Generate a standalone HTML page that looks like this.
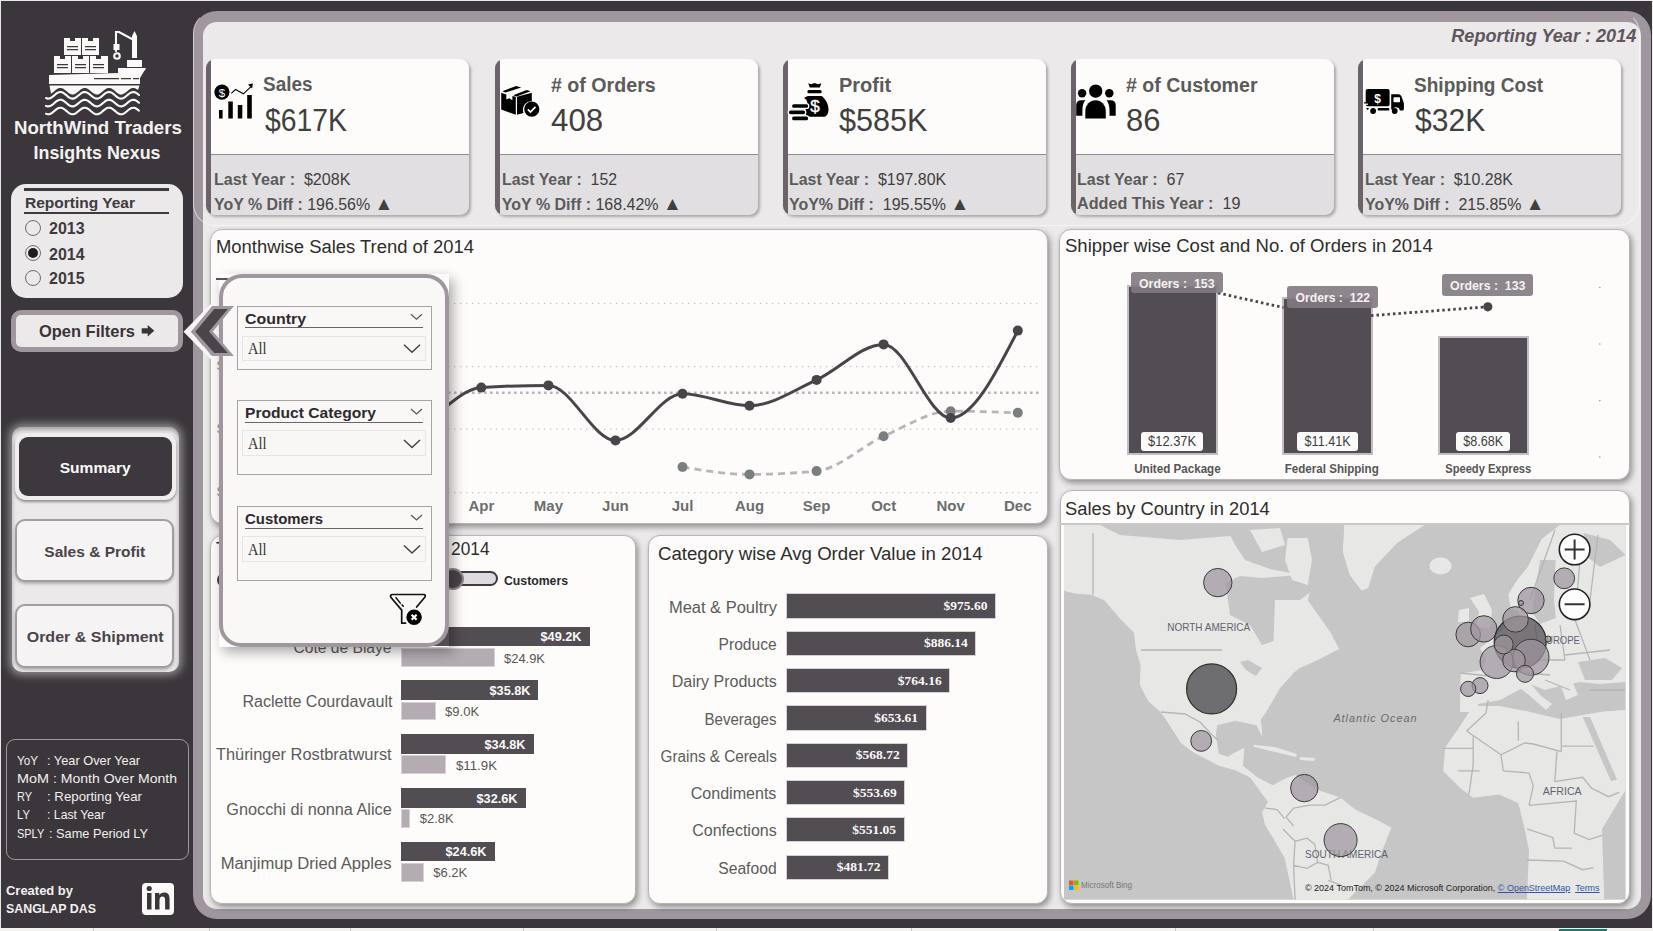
<!DOCTYPE html><html><head><meta charset="utf-8"><style>
html,body{margin:0;padding:0;}
body{width:1653px;height:931px;position:relative;overflow:hidden;background:#3b363b;font-family:"Liberation Sans", sans-serif;}
.a{position:absolute;box-sizing:border-box;}
svg{position:absolute;overflow:visible;}
</style></head><body>

<div class="a" style="left:0;top:0;width:1653px;height:1px;background:#e8e6e6"></div>
<div class="a" style="left:0;top:0;width:1px;height:931px;background:#e8e6e6"></div>
<div class="a" style="left:1652px;top:0;width:1px;height:931px;background:#f0f0f0"></div>
<div class="a" style="left:0;top:928px;width:1653px;height:3px;background:#f3f2f1"></div>
<div class="a" style="left:1559px;top:929px;width:48px;height:2px;background:#217a68"></div>
<div class="a" style="left:93px;top:928px;width:1px;height:3px;background:#c8c8c8"></div>
<div class="a" style="left:208.5px;top:928px;width:1px;height:3px;background:#c8c8c8"></div>
<div class="a" style="left:350px;top:928px;width:1px;height:3px;background:#c8c8c8"></div>
<div class="a" style="left:522.6px;top:928px;width:1px;height:3px;background:#c8c8c8"></div>
<div class="a" style="left:716px;top:928px;width:1px;height:3px;background:#c8c8c8"></div>
<div class="a" style="left:911px;top:928px;width:1px;height:3px;background:#c8c8c8"></div>
<div class="a" style="left:1175px;top:928px;width:1px;height:3px;background:#c8c8c8"></div>
<div class="a" style="left:1373px;top:928px;width:1px;height:3px;background:#c8c8c8"></div>
<svg style="left:0;top:0" width="200" height="130" viewBox="0 0 200 130">
<g fill="#fbfaf8">
<path d="M64 38h17v17h-17z M82 38h17v17h-17z"/>
<path d="M54 56h17v17h-17z M72 56h17v17h-17z M90 56h18v17h-18z"/>
<path d="M49 75h90l7-6h-25l-3 4 z"/>
<path d="M49 75h91v9h-91z"/>
<path d="M118 68h28l-6 10h-22z"/>
<path d="M127 60h15v7h-15z"/>
<path d="M132 36l2.5-5 2.5 5v22h-5z"/>
<path d="M49.5 85.5H139.5L138 90.1 L138.0 90.1 L137.0 89.3 L136.0 88.7 L135.0 88.2 L134.0 88.0 L133.0 87.9 L132.0 88.1 L131.0 88.5 L130.0 89.0 L129.0 89.7 L128.0 90.5 L127.0 91.4 L126.0 92.2 L125.0 93.0 L124.0 93.6 L123.0 94.1 L122.0 94.4 L121.0 94.5 L120.0 94.4 L119.0 94.0 L118.0 93.5 L117.0 92.8 L116.0 92.0 L115.0 91.1 L114.0 90.3 L113.0 89.5 L112.0 88.8 L111.0 88.3 L110.0 88.0 L109.0 87.9 L108.0 88.0 L107.0 88.3 L106.0 88.8 L105.0 89.5 L104.0 90.3 L103.0 91.1 L102.0 92.0 L101.0 92.8 L100.0 93.5 L99.0 94.0 L98.0 94.4 L97.0 94.5 L96.0 94.4 L95.0 94.1 L94.0 93.6 L93.0 93.0 L92.0 92.2 L91.0 91.4 L90.0 90.5 L89.0 89.7 L88.0 89.0 L87.0 88.5 L86.0 88.1 L85.0 87.9 L84.0 88.0 L83.0 88.2 L82.0 88.7 L81.0 89.3 L80.0 90.1 L79.0 90.9 L78.0 91.7 L77.0 92.5 L76.0 93.3 L75.0 93.9 L74.0 94.3 L73.0 94.5 L72.0 94.5 L71.0 94.2 L70.0 93.8 L69.0 93.2 L68.0 92.5 L67.0 91.6 L66.0 90.8 L65.0 90.0 L64.0 89.2 L63.0 88.6 L62.0 88.2 L61.0 87.9 L60.0 87.9 L59.0 88.1 L58.0 88.5 L57.0 89.1 L56.0 89.8 L55.0 90.6 L54.0 91.5 L53.0 92.3 L52.0 93.1 L51.0 93.7Z"/>
</g>
<g fill="#3b363b">
<path d="M70 38h5v3h-5z M88 38h5v3h-5z M60 56h5v3h-5z M78 56h5v3h-5z M96 56h5v3h-5z"/>
<path d="M67 46h11v1.3h-11z M67 49h11v1.3h-11z M85 46h11v1.3h-11z M85 49h11v1.3h-11z"/>
<path d="M57 64h11v1.3h-11z M57 67h11v1.3h-11z M75 64h11v1.3h-11z M75 67h11v1.3h-11z M93 64h11v1.3h-11z M93 67h11v1.3h-11z"/>
<path d="M94 78h25v1.2h-25z M121 78h10v1.2h-10z M133 78h6v1.2h-6z"/>
</g>
<g fill="none" stroke="#fbfaf8" stroke-width="2.1" stroke-linecap="round">
<path d="M116 45V32h3l13 7"/>
<circle cx="117" cy="56" r="2.8"/>
<path d="M116 45v6"/>
<path d="M46.0 98.1 L47.0 98.4 L48.0 98.6 L49.0 98.5 L50.0 98.3 L51.0 97.8 L52.0 97.2 L53.0 96.4 L54.0 95.6 L55.0 94.7 L56.0 93.9 L57.0 93.2 L58.0 92.6 L59.0 92.2 L60.0 92.0 L61.0 92.0 L62.0 92.3 L63.0 92.7 L64.0 93.3 L65.0 94.1 L66.0 94.9 L67.0 95.7 L68.0 96.6 L69.0 97.3 L70.0 97.9 L71.0 98.3 L72.0 98.6 L73.0 98.6 L74.0 98.4 L75.0 98.0 L76.0 97.4 L77.0 96.6 L78.0 95.8 L79.0 95.0 L80.0 94.2 L81.0 93.4 L82.0 92.8 L83.0 92.3 L84.0 92.1 L85.0 92.0 L86.0 92.2 L87.0 92.6 L88.0 93.1 L89.0 93.8 L90.0 94.6 L91.0 95.5 L92.0 96.3 L93.0 97.1 L94.0 97.7 L95.0 98.2 L96.0 98.5 L97.0 98.6 L98.0 98.5 L99.0 98.1 L100.0 97.6 L101.0 96.9 L102.0 96.1 L103.0 95.2 L104.0 94.4 L105.0 93.6 L106.0 92.9 L107.0 92.4 L108.0 92.1 L109.0 92.0 L110.0 92.1 L111.0 92.4 L112.0 92.9 L113.0 93.6 L114.0 94.4 L115.0 95.2 L116.0 96.1 L117.0 96.9 L118.0 97.6 L119.0 98.1 L120.0 98.5 L121.0 98.6 L122.0 98.5 L123.0 98.2 L124.0 97.7 L125.0 97.1 L126.0 96.3 L127.0 95.5 L128.0 94.6 L129.0 93.8 L130.0 93.1 L131.0 92.6 L132.0 92.2 L133.0 92.0 L134.0 92.1 L135.0 92.3 L136.0 92.8 L137.0 93.4 L138.0 94.2 L139.0 95.0"/><path d="M46.0 105.9 L47.0 106.2 L48.0 106.4 L49.0 106.3 L50.0 106.1 L51.0 105.6 L52.0 105.0 L53.0 104.2 L54.0 103.4 L55.0 102.5 L56.0 101.7 L57.0 101.0 L58.0 100.4 L59.0 100.0 L60.0 99.8 L61.0 99.8 L62.0 100.1 L63.0 100.5 L64.0 101.1 L65.0 101.9 L66.0 102.7 L67.0 103.5 L68.0 104.4 L69.0 105.1 L70.0 105.7 L71.0 106.1 L72.0 106.4 L73.0 106.4 L74.0 106.2 L75.0 105.8 L76.0 105.2 L77.0 104.4 L78.0 103.6 L79.0 102.8 L80.0 102.0 L81.0 101.2 L82.0 100.6 L83.0 100.1 L84.0 99.9 L85.0 99.8 L86.0 100.0 L87.0 100.4 L88.0 100.9 L89.0 101.6 L90.0 102.4 L91.0 103.3 L92.0 104.1 L93.0 104.9 L94.0 105.5 L95.0 106.0 L96.0 106.3 L97.0 106.4 L98.0 106.3 L99.0 105.9 L100.0 105.4 L101.0 104.7 L102.0 103.9 L103.0 103.0 L104.0 102.2 L105.0 101.4 L106.0 100.7 L107.0 100.2 L108.0 99.9 L109.0 99.8 L110.0 99.9 L111.0 100.2 L112.0 100.7 L113.0 101.4 L114.0 102.2 L115.0 103.0 L116.0 103.9 L117.0 104.7 L118.0 105.4 L119.0 105.9 L120.0 106.3 L121.0 106.4 L122.0 106.3 L123.0 106.0 L124.0 105.5 L125.0 104.9 L126.0 104.1 L127.0 103.3 L128.0 102.4 L129.0 101.6 L130.0 100.9 L131.0 100.4 L132.0 100.0 L133.0 99.8 L134.0 99.9 L135.0 100.1 L136.0 100.6 L137.0 101.2 L138.0 102.0 L139.0 102.8"/><path d="M46.0 113.8 L47.0 114.1 L48.0 114.3 L49.0 114.2 L50.0 114.0 L51.0 113.5 L52.0 112.9 L53.0 112.1 L54.0 111.3 L55.0 110.4 L56.0 109.6 L57.0 108.9 L58.0 108.3 L59.0 107.9 L60.0 107.7 L61.0 107.7 L62.0 108.0 L63.0 108.4 L64.0 109.0 L65.0 109.8 L66.0 110.6 L67.0 111.4 L68.0 112.3 L69.0 113.0 L70.0 113.6 L71.0 114.0 L72.0 114.3 L73.0 114.3 L74.0 114.1 L75.0 113.7 L76.0 113.1 L77.0 112.3 L78.0 111.5 L79.0 110.7 L80.0 109.9 L81.0 109.1 L82.0 108.5 L83.0 108.0 L84.0 107.8 L85.0 107.7 L86.0 107.9 L87.0 108.3 L88.0 108.8 L89.0 109.5 L90.0 110.3 L91.0 111.2 L92.0 112.0 L93.0 112.8 L94.0 113.4 L95.0 113.9 L96.0 114.2 L97.0 114.3 L98.0 114.2 L99.0 113.8 L100.0 113.3 L101.0 112.6 L102.0 111.8 L103.0 110.9 L104.0 110.1 L105.0 109.3 L106.0 108.6 L107.0 108.1 L108.0 107.8 L109.0 107.7 L110.0 107.8 L111.0 108.1 L112.0 108.6 L113.0 109.3 L114.0 110.1 L115.0 110.9 L116.0 111.8 L117.0 112.6 L118.0 113.3 L119.0 113.8 L120.0 114.2 L121.0 114.3 L122.0 114.2 L123.0 113.9 L124.0 113.4 L125.0 112.8 L126.0 112.0 L127.0 111.2 L128.0 110.3 L129.0 109.5 L130.0 108.8 L131.0 108.3 L132.0 107.9 L133.0 107.7 L134.0 107.8 L135.0 108.0 L136.0 108.5 L137.0 109.1 L138.0 109.9 L139.0 110.7"/></g>
<rect x="113.5" y="44" width="6" height="6" fill="#fbfaf8"/>
</svg>
<div style="position:absolute;top:118.76px;line-height:18px;font-size:18px;font-family:'Liberation Sans', sans-serif;font-weight:700;color:#f4f2f0;white-space:pre;left:-502.50px;width:1200px;text-align:center;"><span style="display:inline-block;transform:scaleX(1.0379);transform-origin:center">NorthWind Traders</span></div>
<div style="position:absolute;top:143.76px;line-height:18px;font-size:18px;font-family:'Liberation Sans', sans-serif;font-weight:700;color:#f4f2f0;white-space:pre;left:-502.50px;width:1200px;text-align:center;"><span style="display:inline-block;transform:scaleX(0.9919);transform-origin:center">Insights Nexus</span></div>
<div class="a" style="left:11px;top:184px;width:172px;height:114px;background:#ebe9ea;border-radius:15px"></div>
<div class="a" style="left:24px;top:188px;width:145px;height:2.5px;background:#3f3a3f"></div>
<div class="a" style="left:24px;top:211.5px;width:145px;height:2px;background:#3f3a3f"></div>
<div style="position:absolute;top:195.30px;line-height:15px;font-size:15px;font-family:'Liberation Sans', sans-serif;font-weight:700;color:#3f3a3f;white-space:pre;left:25.00px;transform:scaleX(1.0336);transform-origin:left;">Reporting Year</div>
<div class="a" style="left:24.700000000000003px;top:219.9px;width:16px;height:16px;border-radius:50%;border:1.1px solid #6e6e6e"></div>
<div style="position:absolute;top:221.36px;line-height:16px;font-size:16px;font-family:'Liberation Sans', sans-serif;font-weight:700;color:#3f3a3f;white-space:pre;left:49.00px;transform:scaleX(0.9974);transform-origin:left;">2013</div>
<div class="a" style="left:24.700000000000003px;top:244.8px;width:16px;height:16px;border-radius:50%;border:1.1px solid #6e6e6e"></div>
<div class="a" style="left:27.500000000000004px;top:247.60000000000002px;width:10.4px;height:10.4px;border-radius:50%;background:#1e1e1e"></div>
<div style="position:absolute;top:247.36px;line-height:16px;font-size:16px;font-family:'Liberation Sans', sans-serif;font-weight:700;color:#3f3a3f;white-space:pre;left:49.00px;transform:scaleX(0.9974);transform-origin:left;">2014</div>
<div class="a" style="left:24.700000000000003px;top:269.7px;width:16px;height:16px;border-radius:50%;border:1.1px solid #6e6e6e"></div>
<div style="position:absolute;top:270.96px;line-height:16px;font-size:16px;font-family:'Liberation Sans', sans-serif;font-weight:700;color:#3f3a3f;white-space:pre;left:49.00px;transform:scaleX(0.9974);transform-origin:left;">2015</div>
<div class="a" style="left:11px;top:310px;width:172px;height:42px;background:#ebe9ea;border:5px solid #a0979e;border-radius:10px"></div>
<div style="position:absolute;top:323.11px;line-height:17px;font-size:17px;font-family:'Liberation Sans', sans-serif;font-weight:700;color:#3a3438;white-space:pre;left:39.00px;transform:scaleX(0.9679);transform-origin:left;">Open Filters</div>
<svg style="left:0;top:0" width="200" height="400"><path d="M141.7 328.2H147.7V325L154.3 330.8L147.7 336.6V333.6H141.7Z" fill="#3a3438"/></svg>
<div class="a" style="left:12px;top:427px;width:167px;height:245px;background:#ebe9ea;border-radius:10px;box-shadow:0 0 8px 3px rgba(255,255,255,0.45), inset 0 3px 4px rgba(0,0,0,0.3)"></div>
<div class="a" style="left:14.5px;top:433px;width:161.5px;height:67px;background:#efedee;border-radius:11px;box-shadow:0 2px 3px rgba(0,0,0,0.4)"></div>
<div class="a" style="left:18.7px;top:437.2px;width:153.6px;height:58.6px;background:#3d383d;border-radius:9px"></div>
<div style="position:absolute;top:460.30px;line-height:15px;font-size:15px;font-family:'Liberation Sans', sans-serif;font-weight:700;color:#fbfafa;white-space:pre;left:-505.00px;width:1200px;text-align:center;"><span style="display:inline-block;transform:scaleX(1.0384);transform-origin:center">Summary</span></div>
<div class="a" style="left:15px;top:518.5px;width:159px;height:63.5px;background:#f5f3f4;border:2px solid #a39ca2;border-radius:10px;box-shadow:0 2px 3px rgba(0,0,0,0.25)"></div>
<div style="position:absolute;top:544.30px;line-height:15px;font-size:15px;font-family:'Liberation Sans', sans-serif;font-weight:700;color:#4a434a;white-space:pre;left:-505.00px;width:1200px;text-align:center;"><span style="display:inline-block;transform:scaleX(1.0356);transform-origin:center">Sales & Profit</span></div>
<div class="a" style="left:15px;top:603.5px;width:159px;height:64.0px;background:#f5f3f4;border:2px solid #a39ca2;border-radius:10px;box-shadow:0 2px 3px rgba(0,0,0,0.25)"></div>
<div style="position:absolute;top:629.30px;line-height:15px;font-size:15px;font-family:'Liberation Sans', sans-serif;font-weight:700;color:#4a434a;white-space:pre;left:-505.00px;width:1200px;text-align:center;"><span style="display:inline-block;transform:scaleX(1.0673);transform-origin:center">Order & Shipment</span></div>
<div class="a" style="left:6px;top:738.5px;width:182.5px;height:121.5px;border:1px solid #9d989c;border-radius:9px"></div>
<div style="position:absolute;top:753.77px;line-height:13.5px;font-size:13.5px;font-family:'Liberation Sans', sans-serif;font-weight:400;color:#f2f0ee;white-space:pre;left:17.40px;transform:scaleX(0.8649);transform-origin:left;">YoY</div>
<div style="position:absolute;top:753.77px;line-height:13.5px;font-size:13.5px;font-family:'Liberation Sans', sans-serif;font-weight:400;color:#f2f0ee;white-space:pre;left:47.00px;transform:scaleX(0.9458);transform-origin:left;">: Year Over Year</div>
<div style="position:absolute;top:771.97px;line-height:13.5px;font-size:13.5px;font-family:'Liberation Sans', sans-serif;font-weight:400;color:#f2f0ee;white-space:pre;left:17.40px;transform:scaleX(1.0667);transform-origin:left;">MoM</div>
<div style="position:absolute;top:771.97px;line-height:13.5px;font-size:13.5px;font-family:'Liberation Sans', sans-serif;font-weight:400;color:#f2f0ee;white-space:pre;left:53.30px;transform:scaleX(1.0393);transform-origin:left;">: Month Over Month</div>
<div style="position:absolute;top:790.17px;line-height:13.5px;font-size:13.5px;font-family:'Liberation Sans', sans-serif;font-weight:400;color:#f2f0ee;white-space:pre;left:17.40px;transform:scaleX(0.8101);transform-origin:left;">RY</div>
<div style="position:absolute;top:790.17px;line-height:13.5px;font-size:13.5px;font-family:'Liberation Sans', sans-serif;font-weight:400;color:#f2f0ee;white-space:pre;left:47.00px;transform:scaleX(0.9811);transform-origin:left;">: Reporting Year</div>
<div style="position:absolute;top:808.37px;line-height:13.5px;font-size:13.5px;font-family:'Liberation Sans', sans-serif;font-weight:400;color:#f2f0ee;white-space:pre;left:17.40px;transform:scaleX(0.8379);transform-origin:left;">LY</div>
<div style="position:absolute;top:808.37px;line-height:13.5px;font-size:13.5px;font-family:'Liberation Sans', sans-serif;font-weight:400;color:#f2f0ee;white-space:pre;left:47.00px;transform:scaleX(0.9089);transform-origin:left;">: Last Year</div>
<div style="position:absolute;top:826.57px;line-height:13.5px;font-size:13.5px;font-family:'Liberation Sans', sans-serif;font-weight:400;color:#f2f0ee;white-space:pre;left:17.40px;transform:scaleX(0.8112);transform-origin:left;">SPLY</div>
<div style="position:absolute;top:826.57px;line-height:13.5px;font-size:13.5px;font-family:'Liberation Sans', sans-serif;font-weight:400;color:#f2f0ee;white-space:pre;left:48.70px;transform:scaleX(0.9445);transform-origin:left;">: Same Period LY</div>
<div style="position:absolute;top:883.50px;line-height:13px;font-size:13px;font-family:'Liberation Sans', sans-serif;font-weight:700;color:#f2f0ee;white-space:pre;left:6.00px;transform:scaleX(0.9970);transform-origin:left;">Created by</div>
<div style="position:absolute;top:901.50px;line-height:13px;font-size:13px;font-family:'Liberation Sans', sans-serif;font-weight:700;color:#f2f0ee;white-space:pre;left:6.00px;transform:scaleX(0.9535);transform-origin:left;">SANGLAP DAS</div>
<div class="a" style="left:142px;top:883px;width:32px;height:32px;background:#fbfaf8;border-radius:4px"></div>
<svg style="left:0;top:0" width="200" height="931"><g fill="#3b363b"><rect x="147" y="893" width="4.5" height="16.5"/><circle cx="149.2" cy="888.5" r="2.6"/><path d="M155 893h4.3v2.2c1-1.6 2.6-2.6 5-2.6 4 0 5.3 2.5 5.3 6.5v10.4h-4.5v-9.5c0-2-.6-3.4-2.6-3.4s-3 1.4-3 3.4v9.5h-4.5z"/></g></svg>
<div class="a" style="left:193px;top:11px;width:1458px;height:908px;background:#a0979e;border-radius:24px"></div>
<div class="a" style="left:203px;top:22px;width:1438px;height:887px;background:#ebe9ea;border-radius:14px"></div>
<div class="a" style="left:193px;top:11px;width:1447px;height:215px;border:1.5px solid rgba(255,255,255,0.55);border-radius:22px;border-top-color:transparent"></div>
<div style="position:absolute;top:25.92px;line-height:19px;font-size:19px;font-family:'Liberation Sans', sans-serif;font-weight:700;color:#5f5660;white-space:pre;font-style:italic;right:17.00px;transform:scaleX(0.9522);transform-origin:right;">Reporting Year : 2014</div>
<div class="a" style="left:206px;top:59px;width:263px;height:156px;background:#e2dfe2;border-radius:9px;box-shadow:2px 2px 3px rgba(0,0,0,0.28);overflow:hidden"><div class="a" style="left:0;top:0;width:263px;height:95.5px;background:#fdfcfa"></div><div class="a" style="left:0;top:94.8px;width:263px;height:1.3px;background:#8f8e8f"></div><div class="a" style="left:0;top:0;width:5px;height:156px;background:#6b636a"></div></div>
<div class="a" style="left:494.5px;top:59px;width:263px;height:156px;background:#e2dfe2;border-radius:9px;box-shadow:2px 2px 3px rgba(0,0,0,0.28);overflow:hidden"><div class="a" style="left:0;top:0;width:263px;height:95.5px;background:#fdfcfa"></div><div class="a" style="left:0;top:94.8px;width:263px;height:1.3px;background:#8f8e8f"></div><div class="a" style="left:0;top:0;width:5px;height:156px;background:#6b636a"></div></div>
<div class="a" style="left:782.5px;top:59px;width:263px;height:156px;background:#e2dfe2;border-radius:9px;box-shadow:2px 2px 3px rgba(0,0,0,0.28);overflow:hidden"><div class="a" style="left:0;top:0;width:263px;height:95.5px;background:#fdfcfa"></div><div class="a" style="left:0;top:94.8px;width:263px;height:1.3px;background:#8f8e8f"></div><div class="a" style="left:0;top:0;width:5px;height:156px;background:#6b636a"></div></div>
<div class="a" style="left:1070.5px;top:59px;width:263px;height:156px;background:#e2dfe2;border-radius:9px;box-shadow:2px 2px 3px rgba(0,0,0,0.28);overflow:hidden"><div class="a" style="left:0;top:0;width:263px;height:95.5px;background:#fdfcfa"></div><div class="a" style="left:0;top:94.8px;width:263px;height:1.3px;background:#8f8e8f"></div><div class="a" style="left:0;top:0;width:5px;height:156px;background:#6b636a"></div></div>
<div class="a" style="left:1358px;top:59px;width:263px;height:156px;background:#e2dfe2;border-radius:9px;box-shadow:2px 2px 3px rgba(0,0,0,0.28);overflow:hidden"><div class="a" style="left:0;top:0;width:263px;height:95.5px;background:#fdfcfa"></div><div class="a" style="left:0;top:94.8px;width:263px;height:1.3px;background:#8f8e8f"></div><div class="a" style="left:0;top:0;width:5px;height:156px;background:#6b636a"></div></div>
<div style="position:absolute;top:73.67px;line-height:20px;font-size:20px;font-family:'Liberation Sans', sans-serif;font-weight:700;color:#5b5b5b;white-space:pre;left:263.20px;transform:scaleX(0.9471);transform-origin:left;">Sales</div>
<div style="position:absolute;top:104.21px;line-height:32px;font-size:32px;font-family:'Liberation Sans', sans-serif;font-weight:400;color:#404040;white-space:pre;left:264.70px;transform:scaleX(0.8862);transform-origin:left;">$617K</div>
<div style="position:absolute;top:172.26px;line-height:16px;font-size:16px;font-family:'Liberation Sans', sans-serif;font-weight:400;color:#404040;white-space:pre;left:214.30px;transform:scaleX(1.0044);transform-origin:left;"><b style="color:#5b5b5b">Last Year :</b><span style="color:#404040">  $208K</span></div>
<div style="position:absolute;top:195.96px;line-height:16px;font-size:16px;font-family:'Liberation Sans', sans-serif;font-weight:400;color:#404040;white-space:pre;left:214.30px;transform:scaleX(0.9958);transform-origin:left;"><b style="color:#5b5b5b">YoY % Diff :</b><span style="color:#404040"> 196.56% <span style="font-size:19px">▲</span></span></div>
<div style="position:absolute;top:74.87px;line-height:20px;font-size:20px;font-family:'Liberation Sans', sans-serif;font-weight:700;color:#5b5b5b;white-space:pre;left:550.70px;transform:scaleX(0.9812);transform-origin:left;"># of Orders</div>
<div style="position:absolute;top:104.21px;line-height:32px;font-size:32px;font-family:'Liberation Sans', sans-serif;font-weight:400;color:#404040;white-space:pre;left:551.40px;transform:scaleX(0.9777);transform-origin:left;">408</div>
<div style="position:absolute;top:172.26px;line-height:16px;font-size:16px;font-family:'Liberation Sans', sans-serif;font-weight:400;color:#404040;white-space:pre;left:501.80px;transform:scaleX(0.9894);transform-origin:left;"><b style="color:#5b5b5b">Last Year :</b><span style="color:#404040">  152</span></div>
<div style="position:absolute;top:195.96px;line-height:16px;font-size:16px;font-family:'Liberation Sans', sans-serif;font-weight:400;color:#404040;white-space:pre;left:501.80px;"><b style="color:#5b5b5b">YoY % Diff :</b><span style="color:#404040"> 168.42% <span style="font-size:19px">▲</span></span></div>
<div style="position:absolute;top:74.87px;line-height:20px;font-size:20px;font-family:'Liberation Sans', sans-serif;font-weight:700;color:#5b5b5b;white-space:pre;left:838.60px;transform:scaleX(0.9977);transform-origin:left;">Profit</div>
<div style="position:absolute;top:104.21px;line-height:32px;font-size:32px;font-family:'Liberation Sans', sans-serif;font-weight:400;color:#404040;white-space:pre;left:838.60px;transform:scaleX(0.9564);transform-origin:left;">$585K</div>
<div style="position:absolute;top:172.26px;line-height:16px;font-size:16px;font-family:'Liberation Sans', sans-serif;font-weight:400;color:#404040;white-space:pre;left:788.90px;transform:scaleX(0.9940);transform-origin:left;"><b style="color:#5b5b5b">Last Year :</b><span style="color:#404040">  $197.80K</span></div>
<div style="position:absolute;top:195.96px;line-height:16px;font-size:16px;font-family:'Liberation Sans', sans-serif;font-weight:400;color:#404040;white-space:pre;left:788.90px;"><b style="color:#5b5b5b">YoY% Diff :</b><span style="color:#404040">  195.55% <span style="font-size:19px">▲</span></span></div>
<div style="position:absolute;top:74.87px;line-height:20px;font-size:20px;font-family:'Liberation Sans', sans-serif;font-weight:700;color:#5b5b5b;white-space:pre;left:1126.00px;transform:scaleX(0.9779);transform-origin:left;"># of Customer</div>
<div style="position:absolute;top:104.21px;line-height:32px;font-size:32px;font-family:'Liberation Sans', sans-serif;font-weight:400;color:#404040;white-space:pre;left:1126.00px;transform:scaleX(0.9665);transform-origin:left;">86</div>
<div style="position:absolute;top:172.26px;line-height:16px;font-size:16px;font-family:'Liberation Sans', sans-serif;font-weight:400;color:#404040;white-space:pre;left:1077.00px;"><b style="color:#5b5b5b">Last Year :</b><span style="color:#404040">  67</span></div>
<div style="position:absolute;top:195.96px;line-height:16px;font-size:16px;font-family:'Liberation Sans', sans-serif;font-weight:400;color:#404040;white-space:pre;left:1077.00px;transform:scaleX(1.0115);transform-origin:left;"><b style="color:#5b5b5b">Added This Year :</b><span style="color:#404040">  19</span></div>
<div style="position:absolute;top:74.87px;line-height:20px;font-size:20px;font-family:'Liberation Sans', sans-serif;font-weight:700;color:#5b5b5b;white-space:pre;left:1413.90px;transform:scaleX(0.9524);transform-origin:left;">Shipping Cost</div>
<div style="position:absolute;top:104.21px;line-height:32px;font-size:32px;font-family:'Liberation Sans', sans-serif;font-weight:400;color:#404040;white-space:pre;left:1415.10px;transform:scaleX(0.9393);transform-origin:left;">$32K</div>
<div style="position:absolute;top:172.26px;line-height:16px;font-size:16px;font-family:'Liberation Sans', sans-serif;font-weight:400;color:#404040;white-space:pre;left:1364.50px;transform:scaleX(0.9917);transform-origin:left;"><b style="color:#5b5b5b">Last Year :</b><span style="color:#404040">  $10.28K</span></div>
<div style="position:absolute;top:195.96px;line-height:16px;font-size:16px;font-family:'Liberation Sans', sans-serif;font-weight:400;color:#404040;white-space:pre;left:1364.50px;transform:scaleX(0.9953);transform-origin:left;"><b style="color:#5b5b5b">YoY% Diff :</b><span style="color:#404040">  215.85% <span style="font-size:19px">▲</span></span></div>
<svg style="left:0;top:0" width="1653" height="200" viewBox="0 0 1653 200">
<g fill="#000">
<circle cx="221.9" cy="92.1" r="7.6"/>
<rect x="219" y="110" width="3.6" height="8.5"/><rect x="228.3" y="101.5" width="4.5" height="17"/><rect x="237.8" y="105" width="4.5" height="13.5"/><rect x="247.2" y="95" width="4.6" height="23.5"/>
<path d="M248 84.5l5-1-1 5z"/>
</g>
<path d="M231.3 93.4l4.2-3.9 7.9 4.3 8.4-8" fill="none" stroke="#000" stroke-width="1.1"/>
<text x="221.9" y="96.6" font-family="Liberation Sans" font-size="11.5" fill="#fff" text-anchor="middle">$</text>
<!-- box -->
<g fill="#000">
<path d="M501.2 92.8L506.3 94.6V99.6L509.3 98.3L512.4 100.2V95.9L515.8 96.8V114.8L501.2 109.4Z"/>
<path d="M517 96.8L531.8 92.8V101.2A8.5 8.5 0 0 0 523.6 113L517 114.8Z"/>
<path d="M502.4 91.3L516.2 85.9L521.2 87.4L505.4 92.6Z"/>
<path d="M513.3 95.3L526.6 89.9L530.6 91.3L516.7 96.5Z"/>
<circle cx="531.8" cy="109.1" r="7.6"/>
</g>
<path d="M527.8 109.3l2.7 2.8 5-5.2" fill="none" stroke="#fff" stroke-width="1.7"/>
<!-- money bag -->
<g fill="#000">
<path d="M808.2 83.3l3 1 3.4-1.4 3.4 1.4 3.4-1 -1.6 4.2h-10z"/>
<rect x="807.4" y="90.1" width="14.3" height="3.2" rx="1.5"/>
<path d="M807.7 95.9h14c4 3.5 6.8 8 6.8 13.5c0 4.5-2 7.4-5.5 7.4h-12.5c-3.2 0-5-1.8-5-3.6v-6.5a5 5 0 0 0-1.5-8.6z"/>
</g>
<text x="815" y="111.5" font-family="Liberation Sans" font-size="17" fill="#fff" text-anchor="middle" stroke="#fff" stroke-width="0.4">$</text>
<g fill="#000" stroke="#fdfcfa" stroke-width="1.3">
<rect x="791.5" y="103.6" width="17.2" height="4.8" rx="2.2"/>
<rect x="788.3" y="109.8" width="17.4" height="5" rx="2.2"/>
<rect x="791.5" y="115.9" width="17.2" height="5.1" rx="2.2"/>
</g>
<!-- people -->
<g fill="#000">
<circle cx="1095.7" cy="91.1" r="6.7"/><circle cx="1082.1" cy="93.3" r="4.2"/><circle cx="1109.3" cy="93.3" r="4.2"/>
<path d="M1085.3 118.5V111a10.25 10.8 0 0 1 20.5 0V118.5Q1105.8 118.5 1104 118.5H1087Q1085.3 118.5 1085.3 118.5Z"/>
<path d="M1076.2 115.8V105c0-3 2-4.7 5-4.7h4.2c-1.8 2.2-3 5.5-3 9.5v6z"/>
<path d="M1115.7 115.8V105c0-3-2-4.7-5-4.7h-4.2c1.8 2.2 3 5.5 3 9.5v6z"/>
</g>
<!-- truck -->
<g fill="#000">
<rect x="1365.7" y="89.1" width="23.9" height="17.2" rx="2"/>
<path d="M1391.2 94.2h7.2c1.5 0 2.6 1 3.2 2.5l2.3 6.5v5.5c0 1.2-.6 1.9-1.7 1.9h-2.2a4 4 0 0 0-7.5-1.2l-1.3.1z"/>
<rect x="1377.6" y="108.1" width="11.8" height="2.5" rx="1"/>
<circle cx="1373.1" cy="111" r="2.9"/><circle cx="1394.7" cy="111" r="2.9"/>
<path d="M1366 108h3l-1.2 2.3z"/>
<rect x="1364" y="102.3" width="3.5" height="1.5"/>
</g>
<rect x="1393.5" y="97.3" width="6.5" height="4.9" rx="0.8" fill="#fff"/>
<rect x="1364" y="103.6" width="4" height="1.2" fill="#fff"/>
<text x="1377.6" y="102.6" font-family="Liberation Sans" font-size="12" font-weight="bold" fill="#fff" text-anchor="middle">$</text>
</svg>
<div class="a" style="left:210px;top:229px;width:838.3px;height:294.6px;background:#fdfcfa;border:1px solid #b9b3b8;border-radius:12px;box-shadow:2px 3px 6px rgba(0,0,0,0.4)"></div>
<div class="a" style="left:1059px;top:229px;width:571px;height:251px;background:#fdfcfa;border:1px solid #b9b3b8;border-radius:12px;box-shadow:2px 3px 6px rgba(0,0,0,0.4)"></div>
<div class="a" style="left:1059.5px;top:490.4px;width:570.5px;height:414.0px;background:#fdfcfa;border:1px solid #b9b3b8;border-radius:12px;box-shadow:2px 3px 6px rgba(0,0,0,0.4)"></div>
<div class="a" style="left:210px;top:535px;width:426px;height:368.6px;background:#fdfcfa;border:1px solid #b9b3b8;border-radius:12px;box-shadow:2px 3px 6px rgba(0,0,0,0.4)"></div>
<div class="a" style="left:647.5px;top:535px;width:400.70000000000005px;height:368.5px;background:#fdfcfa;border:1px solid #b9b3b8;border-radius:12px;box-shadow:2px 3px 6px rgba(0,0,0,0.4)"></div>
<div style="position:absolute;top:238.06px;line-height:18px;font-size:18px;font-family:'Liberation Sans', sans-serif;font-weight:400;color:#2d2d2d;white-space:pre;left:216.00px;transform:scaleX(1.0232);transform-origin:left;">Monthwise Sales Trend of 2014</div>
<div style="position:absolute;top:236.86px;line-height:18px;font-size:18px;font-family:'Liberation Sans', sans-serif;font-weight:400;color:#2d2d2d;white-space:pre;left:1064.60px;transform:scaleX(1.0294);transform-origin:left;">Shipper wise Cost and No. of Orders in 2014</div>
<div style="position:absolute;top:500.16px;line-height:18px;font-size:18px;font-family:'Liberation Sans', sans-serif;font-weight:400;color:#2d2d2d;white-space:pre;left:1065.00px;transform:scaleX(1.0183);transform-origin:left;">Sales by Country in 2014</div>
<div style="position:absolute;top:540.06px;line-height:18px;font-size:18px;font-family:'Liberation Sans', sans-serif;font-weight:400;color:#2d2d2d;white-space:pre;left:216.00px;transform:scaleX(0.9590);transform-origin:left;">Top 5 Products by Revenue in 2014</div>
<div style="position:absolute;top:545.36px;line-height:18px;font-size:18px;font-family:'Liberation Sans', sans-serif;font-weight:400;color:#2d2d2d;white-space:pre;left:658.40px;transform:scaleX(1.0350);transform-origin:left;">Category wise Avg Order Value in 2014</div>
<svg style="left:0;top:0" width="1653" height="931" viewBox="0 0 1653 931">
<line x1="262" y1="303.4" x2="1040" y2="303.4" stroke="#c4c4c4" stroke-width="1.3" stroke-dasharray="1.3 4.7"/>
<line x1="262" y1="366.6" x2="1040" y2="366.6" stroke="#c4c4c4" stroke-width="1.3" stroke-dasharray="1.3 4.7"/>
<line x1="262" y1="429.2" x2="1040" y2="429.2" stroke="#c4c4c4" stroke-width="1.3" stroke-dasharray="1.3 4.7"/>
<line x1="262" y1="492.6" x2="1040" y2="492.6" stroke="#c4c4c4" stroke-width="1.3" stroke-dasharray="1.3 4.7"/>
<line x1="262" y1="392.8" x2="1042" y2="392.8" stroke="#bcb4bc" stroke-width="2.6" stroke-dasharray="2.6 3.4"/>
<path d="M682.5 467.0 C704.9 470.7 727.2 474.4 749.5 474.4 C771.9 474.4 794.2 473.3 816.6 471.1 C838.9 468.9 861.3 446.3 883.6 436.3 C906.0 426.3 928.4 411.2 950.7 411.2 C973.1 411.2 995.4 412.0 1017.8 412.8" fill="none" stroke="#bbb3ba" stroke-width="2.8" stroke-dasharray="7 5"/>
<circle cx="682.5" cy="467" r="5" fill="#7b7e7f"/>
<circle cx="749.5" cy="474.4" r="5" fill="#7b7e7f"/>
<circle cx="816.6" cy="471.1" r="5" fill="#7b7e7f"/>
<circle cx="883.6" cy="436.3" r="5" fill="#7b7e7f"/>
<circle cx="950.7" cy="411.2" r="5" fill="#7b7e7f"/>
<circle cx="1017.8" cy="412.8" r="5" fill="#7b7e7f"/>
<path d="M280.2 455.0 C302.6 462.5 324.9 470.0 347.2 470.0 C369.6 470.0 391.9 445.7 414.3 432.0 C436.6 418.3 459.0 389.1 481.3 387.6 C503.7 386.1 526.0 385.4 548.4 385.4 C570.8 385.4 593.1 440.4 615.5 440.4 C637.8 440.4 660.1 393.8 682.5 393.8 C704.9 393.8 727.2 405.7 749.5 405.7 C771.9 405.7 794.2 390.1 816.6 379.9 C838.9 369.7 861.3 344.4 883.6 344.4 C906.0 344.4 928.4 418.0 950.7 418.0 C973.1 418.0 995.4 374.3 1017.8 330.6" fill="none" stroke="#4a444a" stroke-width="3"/>
<circle cx="280.2" cy="455" r="5" fill="#4a444a"/>
<circle cx="347.2" cy="470" r="5" fill="#4a444a"/>
<circle cx="414.3" cy="432" r="5" fill="#4a444a"/>
<circle cx="481.3" cy="387.6" r="5" fill="#4a444a"/>
<circle cx="548.4" cy="385.4" r="5" fill="#4a444a"/>
<circle cx="615.5" cy="440.4" r="5" fill="#4a444a"/>
<circle cx="682.5" cy="393.8" r="5" fill="#4a444a"/>
<circle cx="749.5" cy="405.7" r="5" fill="#4a444a"/>
<circle cx="816.6" cy="379.9" r="5" fill="#4a444a"/>
<circle cx="883.6" cy="344.4" r="5" fill="#4a444a"/>
<circle cx="950.7" cy="418" r="5" fill="#4a444a"/>
<circle cx="1017.8" cy="330.6" r="5" fill="#4a444a"/>
</svg>
<div style="position:absolute;top:497.80px;line-height:15px;font-size:15px;font-family:'Liberation Sans', sans-serif;font-weight:700;color:#6b6e6e;white-space:pre;left:-319.80px;width:1200px;text-align:center;">Jan</div>
<div style="position:absolute;top:497.80px;line-height:15px;font-size:15px;font-family:'Liberation Sans', sans-serif;font-weight:700;color:#6b6e6e;white-space:pre;left:-252.75px;width:1200px;text-align:center;">Feb</div>
<div style="position:absolute;top:497.80px;line-height:15px;font-size:15px;font-family:'Liberation Sans', sans-serif;font-weight:700;color:#6b6e6e;white-space:pre;left:-185.70px;width:1200px;text-align:center;">Mar</div>
<div style="position:absolute;top:497.80px;line-height:15px;font-size:15px;font-family:'Liberation Sans', sans-serif;font-weight:700;color:#6b6e6e;white-space:pre;left:-118.65px;width:1200px;text-align:center;">Apr</div>
<div style="position:absolute;top:497.80px;line-height:15px;font-size:15px;font-family:'Liberation Sans', sans-serif;font-weight:700;color:#6b6e6e;white-space:pre;left:-51.60px;width:1200px;text-align:center;">May</div>
<div style="position:absolute;top:497.80px;line-height:15px;font-size:15px;font-family:'Liberation Sans', sans-serif;font-weight:700;color:#6b6e6e;white-space:pre;left:15.45px;width:1200px;text-align:center;">Jun</div>
<div style="position:absolute;top:497.80px;line-height:15px;font-size:15px;font-family:'Liberation Sans', sans-serif;font-weight:700;color:#6b6e6e;white-space:pre;left:82.50px;width:1200px;text-align:center;">Jul</div>
<div style="position:absolute;top:497.80px;line-height:15px;font-size:15px;font-family:'Liberation Sans', sans-serif;font-weight:700;color:#6b6e6e;white-space:pre;left:149.55px;width:1200px;text-align:center;">Aug</div>
<div style="position:absolute;top:497.80px;line-height:15px;font-size:15px;font-family:'Liberation Sans', sans-serif;font-weight:700;color:#6b6e6e;white-space:pre;left:216.60px;width:1200px;text-align:center;">Sep</div>
<div style="position:absolute;top:497.80px;line-height:15px;font-size:15px;font-family:'Liberation Sans', sans-serif;font-weight:700;color:#6b6e6e;white-space:pre;left:283.65px;width:1200px;text-align:center;">Oct</div>
<div style="position:absolute;top:497.80px;line-height:15px;font-size:15px;font-family:'Liberation Sans', sans-serif;font-weight:700;color:#6b6e6e;white-space:pre;left:350.70px;width:1200px;text-align:center;">Nov</div>
<div style="position:absolute;top:497.80px;line-height:15px;font-size:15px;font-family:'Liberation Sans', sans-serif;font-weight:700;color:#6b6e6e;white-space:pre;left:417.75px;width:1200px;text-align:center;">Dec</div>
<div style="position:absolute;top:359.00px;line-height:13px;font-size:13px;font-family:'Liberation Sans', sans-serif;font-weight:400;color:#8a8a8a;white-space:pre;left:217.00px;">$</div>
<div style="position:absolute;top:422.00px;line-height:13px;font-size:13px;font-family:'Liberation Sans', sans-serif;font-weight:400;color:#8a8a8a;white-space:pre;left:217.00px;">$</div>
<div style="position:absolute;top:485.00px;line-height:13px;font-size:13px;font-family:'Liberation Sans', sans-serif;font-weight:400;color:#8a8a8a;white-space:pre;left:217.00px;">$</div>
<div class="a" style="left:216px;top:278px;width:12px;height:2px;background:#555"></div>
<div class="a" style="left:1126.6px;top:285px;width:91.2px;height:170.3px;background:#524c53;border:2.5px solid #c3bcc2"></div>
<div class="a" style="left:1282px;top:297.3px;width:91.2px;height:158px;background:#524c53;border:2.5px solid #c3bcc2"></div>
<div class="a" style="left:1437.5px;top:336px;width:91.5px;height:119.3px;background:#524c53;border:2.5px solid #c3bcc2"></div>
<svg style="left:0;top:0" width="1653" height="931">
<path d="M1218 293 L1283.5 307.6" stroke="#4a444a" stroke-width="2.8" stroke-dasharray="2.5 3" fill="none"/>
<path d="M1371 315.6 L1487.8 306.8" stroke="#4a444a" stroke-width="2.8" stroke-dasharray="2.5 3" fill="none"/>
<circle cx="1487.8" cy="306.8" r="4.6" fill="#4a444a"/>
<circle cx="1599.8" cy="287.5" r="0.8" fill="#999"/>
<circle cx="1599.8" cy="344" r="0.8" fill="#999"/>
<circle cx="1599.8" cy="400.6" r="0.8" fill="#999"/>
<circle cx="1599.8" cy="457" r="0.8" fill="#999"/>
</svg>
<div class="a" style="left:1131px;top:271.8px;width:91.59999999999991px;height:21.19999999999999px;background:rgba(130,121,129,0.9);border-radius:3px"></div>
<div style="position:absolute;top:276.50px;line-height:13px;font-size:13px;font-family:'Liberation Sans', sans-serif;font-weight:700;color:#f4f2f3;white-space:pre;left:576.80px;width:1200px;text-align:center;"><span style="display:inline-block;transform:scaleX(0.9509);transform-origin:center">Orders :  <b>153</b></span></div>
<div class="a" style="left:1287px;top:286.4px;width:90.59999999999991px;height:21.200000000000045px;background:rgba(130,121,129,0.9);border-radius:3px"></div>
<div style="position:absolute;top:291.10px;line-height:13px;font-size:13px;font-family:'Liberation Sans', sans-serif;font-weight:700;color:#f4f2f3;white-space:pre;left:732.30px;width:1200px;text-align:center;"><span style="display:inline-block;transform:scaleX(0.9384);transform-origin:center">Orders :  <b>122</b></span></div>
<div class="a" style="left:1442px;top:274px;width:91.40000000000009px;height:21.899999999999977px;background:rgba(130,121,129,0.9);border-radius:3px"></div>
<div style="position:absolute;top:279.40px;line-height:13px;font-size:13px;font-family:'Liberation Sans', sans-serif;font-weight:700;color:#f4f2f3;white-space:pre;left:887.70px;width:1200px;text-align:center;"><span style="display:inline-block;transform:scaleX(0.9484);transform-origin:center">Orders :  <b>133</b></span></div>
<div class="a" style="left:1141px;top:431.6px;width:61.5px;height:19px;background:#fbfafa;border-radius:3px"></div>
<div style="position:absolute;top:434.15px;line-height:14px;font-size:14px;font-family:'Liberation Sans', sans-serif;font-weight:400;color:#3f3f3f;white-space:pre;left:571.75px;width:1200px;text-align:center;"><span style="display:inline-block;transform:scaleX(0.9200);transform-origin:center">$12.37K</span></div>
<div class="a" style="left:1297px;top:431.6px;width:61px;height:19px;background:#fbfafa;border-radius:3px"></div>
<div style="position:absolute;top:434.15px;line-height:14px;font-size:14px;font-family:'Liberation Sans', sans-serif;font-weight:400;color:#3f3f3f;white-space:pre;left:727.50px;width:1200px;text-align:center;"><span style="display:inline-block;transform:scaleX(0.8998);transform-origin:center">$11.41K</span></div>
<div class="a" style="left:1455.7px;top:431.6px;width:54.700000000000045px;height:19px;background:#fbfafa;border-radius:3px"></div>
<div style="position:absolute;top:434.15px;line-height:14px;font-size:14px;font-family:'Liberation Sans', sans-serif;font-weight:400;color:#3f3f3f;white-space:pre;left:883.05px;width:1200px;text-align:center;"><span style="display:inline-block;transform:scaleX(0.9014);transform-origin:center">$8.68K</span></div>
<div style="position:absolute;top:461.50px;line-height:13px;font-size:13px;font-family:'Liberation Sans', sans-serif;font-weight:700;color:#555555;white-space:pre;left:577.00px;width:1200px;text-align:center;"><span style="display:inline-block;transform:scaleX(0.8933);transform-origin:center">United Package</span></div>
<div style="position:absolute;top:461.50px;line-height:13px;font-size:13px;font-family:'Liberation Sans', sans-serif;font-weight:700;color:#555555;white-space:pre;left:732.00px;width:1200px;text-align:center;"><span style="display:inline-block;transform:scaleX(0.8913);transform-origin:center">Federal Shipping</span></div>
<div style="position:absolute;top:461.50px;line-height:13px;font-size:13px;font-family:'Liberation Sans', sans-serif;font-weight:700;color:#555555;white-space:pre;left:888.00px;width:1200px;text-align:center;"><span style="display:inline-block;transform:scaleX(0.8561);transform-origin:center">Speedy Express</span></div>
<div class="a" style="left:401px;top:626.8px;width:189px;height:19.6px;background:#524c53"></div>
<div class="a" style="left:401px;top:648.4px;width:93.80000000000001px;height:18.8px;background:#b4abb3;border:1px solid #d6d0d5"></div>
<div style="position:absolute;top:630.37px;line-height:13.5px;font-size:13.5px;font-family:'Liberation Sans', sans-serif;font-weight:700;color:#fbfafa;white-space:pre;right:1071.00px;transform:scaleX(0.9415);transform-origin:right;">$49.2K</div>
<div style="position:absolute;top:651.70px;line-height:13px;font-size:13px;font-family:'Liberation Sans', sans-serif;font-weight:400;color:#555555;white-space:pre;left:504.30px;transform:scaleX(0.9951);transform-origin:left;">$24.9K</div>
<div style="position:absolute;top:640.46px;line-height:16px;font-size:16px;font-family:'Liberation Sans', sans-serif;font-weight:400;color:#5b5b5b;white-space:pre;right:1261.00px;transform:scaleX(0.9750);transform-origin:right;">Côte de Blaye</div>
<div class="a" style="left:401px;top:680.3px;width:137.10000000000002px;height:19.6px;background:#524c53"></div>
<div class="a" style="left:401px;top:701.5px;width:34.60000000000002px;height:18.8px;background:#b4abb3;border:1px solid #d6d0d5"></div>
<div style="position:absolute;top:683.87px;line-height:13.5px;font-size:13.5px;font-family:'Liberation Sans', sans-serif;font-weight:700;color:#fbfafa;white-space:pre;right:1122.90px;transform:scaleX(0.9415);transform-origin:right;">$35.8K</div>
<div style="position:absolute;top:704.80px;line-height:13px;font-size:13px;font-family:'Liberation Sans', sans-serif;font-weight:400;color:#555555;white-space:pre;left:445.10px;">$9.0K</div>
<div style="position:absolute;top:693.56px;line-height:16px;font-size:16px;font-family:'Liberation Sans', sans-serif;font-weight:400;color:#5b5b5b;white-space:pre;right:1261.00px;transform:scaleX(1.0039);transform-origin:right;">Raclette Courdavault</div>
<div class="a" style="left:401px;top:734.2px;width:133px;height:19.6px;background:#524c53"></div>
<div class="a" style="left:401px;top:755.4px;width:45.19999999999999px;height:18.8px;background:#b4abb3;border:1px solid #d6d0d5"></div>
<div style="position:absolute;top:737.77px;line-height:13.5px;font-size:13.5px;font-family:'Liberation Sans', sans-serif;font-weight:700;color:#fbfafa;white-space:pre;right:1127.00px;transform:scaleX(0.9415);transform-origin:right;">$34.8K</div>
<div style="position:absolute;top:758.70px;line-height:13px;font-size:13px;font-family:'Liberation Sans', sans-serif;font-weight:400;color:#555555;white-space:pre;left:455.70px;transform:scaleX(1.0186);transform-origin:left;">$11.9K</div>
<div style="position:absolute;top:747.46px;line-height:16px;font-size:16px;font-family:'Liberation Sans', sans-serif;font-weight:400;color:#5b5b5b;white-space:pre;right:1261.00px;transform:scaleX(1.0237);transform-origin:right;">Thüringer Rostbratwurst</div>
<div class="a" style="left:401px;top:788px;width:124.79999999999995px;height:19.6px;background:#524c53"></div>
<div class="a" style="left:401px;top:808.9px;width:9.300000000000011px;height:18.8px;background:#b4abb3;border:1px solid #d6d0d5"></div>
<div style="position:absolute;top:791.57px;line-height:13.5px;font-size:13.5px;font-family:'Liberation Sans', sans-serif;font-weight:700;color:#fbfafa;white-space:pre;right:1135.20px;transform:scaleX(0.9415);transform-origin:right;">$32.6K</div>
<div style="position:absolute;top:812.20px;line-height:13px;font-size:13px;font-family:'Liberation Sans', sans-serif;font-weight:400;color:#555555;white-space:pre;left:419.80px;">$2.8K</div>
<div style="position:absolute;top:801.76px;line-height:16px;font-size:16px;font-family:'Liberation Sans', sans-serif;font-weight:400;color:#5b5b5b;white-space:pre;right:1261.00px;transform:scaleX(1.0167);transform-origin:right;">Gnocchi di nonna Alice</div>
<div class="a" style="left:401px;top:841.6px;width:93.80000000000001px;height:19.6px;background:#524c53"></div>
<div class="a" style="left:401px;top:862.8px;width:22.80000000000001px;height:18.8px;background:#b4abb3;border:1px solid #d6d0d5"></div>
<div style="position:absolute;top:845.17px;line-height:13.5px;font-size:13.5px;font-family:'Liberation Sans', sans-serif;font-weight:700;color:#fbfafa;white-space:pre;right:1166.20px;transform:scaleX(0.9415);transform-origin:right;">$24.6K</div>
<div style="position:absolute;top:866.10px;line-height:13px;font-size:13px;font-family:'Liberation Sans', sans-serif;font-weight:400;color:#555555;white-space:pre;left:433.30px;">$6.2K</div>
<div style="position:absolute;top:856.06px;line-height:16px;font-size:16px;font-family:'Liberation Sans', sans-serif;font-weight:400;color:#5b5b5b;white-space:pre;right:1261.00px;transform:scaleX(1.0381);transform-origin:right;">Manjimup Dried Apples</div>
<div class="a" style="left:446px;top:571.4px;width:52px;height:15px;border:2.5px solid #3f3a3f;border-radius:8px;background:#dedbde"></div>
<div class="a" style="left:441.7px;top:567.6px;width:22px;height:22px;border-radius:50%;background:#8f878e"></div>
<div class="a" style="left:443.7px;top:569.6px;width:18px;height:18px;border-radius:50%;background:#4a454a"></div>
<div style="position:absolute;top:574.20px;line-height:13px;font-size:13px;font-family:'Liberation Sans', sans-serif;font-weight:700;color:#2a2a2a;white-space:pre;left:504.00px;transform:scaleX(0.9423);transform-origin:left;">Customers</div>
<div class="a" style="left:217px;top:573px;width:14px;height:14px;border-radius:50%;background:#3f3a3f"></div>
<div class="a" style="left:786px;top:593.3px;width:209.9px;height:25.3px;background:#524c53;border:1.5px solid #d5d0d4"></div>
<div style="position:absolute;top:598.99px;line-height:13.5px;font-size:13.5px;font-family:'Liberation Serif', serif;font-weight:700;color:#fbfafa;white-space:pre;right:665.60px;">$975.60</div>
<div style="position:absolute;top:599.56px;line-height:16px;font-size:16px;font-family:'Liberation Sans', sans-serif;font-weight:400;color:#5b5b5b;white-space:pre;right:876.30px;transform:scaleX(1.0292);transform-origin:right;">Meat & Poultry</div>
<div class="a" style="left:786px;top:630.6px;width:190.3px;height:25.3px;background:#524c53;border:1.5px solid #d5d0d4"></div>
<div style="position:absolute;top:636.31px;line-height:13.5px;font-size:13.5px;font-family:'Liberation Serif', serif;font-weight:700;color:#fbfafa;white-space:pre;right:685.20px;">$886.14</div>
<div style="position:absolute;top:636.88px;line-height:16px;font-size:16px;font-family:'Liberation Sans', sans-serif;font-weight:400;color:#5b5b5b;white-space:pre;right:876.30px;transform:scaleX(0.9733);transform-origin:right;">Produce</div>
<div class="a" style="left:786px;top:667.9px;width:164.2px;height:25.3px;background:#524c53;border:1.5px solid #d5d0d4"></div>
<div style="position:absolute;top:673.63px;line-height:13.5px;font-size:13.5px;font-family:'Liberation Serif', serif;font-weight:700;color:#fbfafa;white-space:pre;right:711.30px;">$764.16</div>
<div style="position:absolute;top:674.20px;line-height:16px;font-size:16px;font-family:'Liberation Sans', sans-serif;font-weight:400;color:#5b5b5b;white-space:pre;right:876.30px;">Dairy Products</div>
<div class="a" style="left:786px;top:705.3px;width:140.5px;height:25.3px;background:#524c53;border:1.5px solid #d5d0d4"></div>
<div style="position:absolute;top:710.95px;line-height:13.5px;font-size:13.5px;font-family:'Liberation Serif', serif;font-weight:700;color:#fbfafa;white-space:pre;right:735.00px;">$653.61</div>
<div style="position:absolute;top:711.52px;line-height:16px;font-size:16px;font-family:'Liberation Sans', sans-serif;font-weight:400;color:#5b5b5b;white-space:pre;right:876.30px;transform:scaleX(0.9412);transform-origin:right;">Beverages</div>
<div class="a" style="left:786px;top:742.6px;width:122.2px;height:25.3px;background:#524c53;border:1.5px solid #d5d0d4"></div>
<div style="position:absolute;top:748.27px;line-height:13.5px;font-size:13.5px;font-family:'Liberation Serif', serif;font-weight:700;color:#fbfafa;white-space:pre;right:753.30px;">$568.72</div>
<div style="position:absolute;top:748.84px;line-height:16px;font-size:16px;font-family:'Liberation Sans', sans-serif;font-weight:400;color:#5b5b5b;white-space:pre;right:876.30px;transform:scaleX(0.9546);transform-origin:right;">Grains & Cereals</div>
<div class="a" style="left:786px;top:779.9px;width:119.3px;height:25.3px;background:#524c53;border:1.5px solid #d5d0d4"></div>
<div style="position:absolute;top:785.59px;line-height:13.5px;font-size:13.5px;font-family:'Liberation Serif', serif;font-weight:700;color:#fbfafa;white-space:pre;right:756.20px;">$553.69</div>
<div style="position:absolute;top:786.16px;line-height:16px;font-size:16px;font-family:'Liberation Sans', sans-serif;font-weight:400;color:#5b5b5b;white-space:pre;right:876.30px;transform:scaleX(1.0038);transform-origin:right;">Condiments</div>
<div class="a" style="left:786px;top:817.2px;width:118.5px;height:25.3px;background:#524c53;border:1.5px solid #d5d0d4"></div>
<div style="position:absolute;top:822.91px;line-height:13.5px;font-size:13.5px;font-family:'Liberation Serif', serif;font-weight:700;color:#fbfafa;white-space:pre;right:757.00px;">$551.05</div>
<div style="position:absolute;top:823.48px;line-height:16px;font-size:16px;font-family:'Liberation Sans', sans-serif;font-weight:400;color:#5b5b5b;white-space:pre;right:876.30px;">Confections</div>
<div class="a" style="left:786px;top:854.5px;width:103.0px;height:25.3px;background:#524c53;border:1.5px solid #d5d0d4"></div>
<div style="position:absolute;top:860.23px;line-height:13.5px;font-size:13.5px;font-family:'Liberation Serif', serif;font-weight:700;color:#fbfafa;white-space:pre;right:772.50px;">$481.72</div>
<div style="position:absolute;top:860.80px;line-height:16px;font-size:16px;font-family:'Liberation Sans', sans-serif;font-weight:400;color:#5b5b5b;white-space:pre;right:876.30px;transform:scaleX(0.9797);transform-origin:right;">Seafood</div>
<svg style="left:0;top:0" width="1653" height="931" viewBox="0 0 1653 931"><defs><clipPath id="mc"><rect x="1064" y="525" width="561.5999999999999" height="374.70000000000005"/></clipPath></defs>
<rect x="1064" y="525" width="561.5999999999999" height="374.70000000000005" fill="#c6c6c6"/>
<g clip-path="url(#mc)">
<path d="M1064.0 525.0 L1300.0 525.0 L1307.0 540.0 L1312.0 585.0 L1307.7 600.2 L1330.6 632.4 L1339.0 649.0 L1318.0 660.0 L1300.0 668.0 L1294.0 672.6 L1280.5 687.6 L1265.4 713.2 L1260.9 719.2 L1262.4 737.2 L1256.4 725.2 L1235.3 720.7 L1217.3 725.2 L1215.8 734.2 L1218.8 753.8 L1227.8 756.8 L1235.3 752.3 L1244.4 747.7 L1242.9 765.8 L1257.9 777.8 L1272.9 785.3 L1286.1 778.0 L1268.0 802.1 L1250.4 777.8 L1235.3 770.3 L1218.8 765.8 L1193.2 752.3 L1181.2 743.2 L1164.7 717.7 L1160.2 711.7 L1148.1 701.1 L1139.8 684.6 L1140.6 665.0 L1136.1 650.0 L1133.8 632.4 L1120.4 619.0 L1104.3 600.2 L1090.9 594.8 L1074.7 593.5 L1064.0 590.8Z" fill="#e7e7e6" />
<path d="M1272.6 794.6 L1286.1 778.0 L1295.1 775.0 L1317.7 790.0 L1340.2 797.6 L1355.3 809.6 L1377.8 820.2 L1391.4 827.7 L1382.3 850.2 L1374.8 872.8 L1352.3 895.3 L1347.7 900.0 L1293.6 900.0 L1284.6 857.7 L1265.0 824.7 L1262.0 812.6 L1268.0 802.1Z" fill="#e7e7e6" />
<path d="M1344.0 525.0 L1424.6 525.0 L1397.7 542.5 L1374.9 566.6 L1368.2 588.1 L1361.5 590.8 L1349.4 574.7 L1342.7 551.9Z" fill="#e7e7e6" />
<path d="M1559.8 525.0 L1625.6 525.0 L1625.6 712.0 L1460.0 712.0 L1460.6 673.4 L1482.0 670.0 L1486.0 660.0 L1480.0 648.0 L1494.0 637.0 L1505.0 628.0 L1519.3 618.0 L1519.3 611.6 L1511.0 608.8 L1508.2 594.8 L1516.6 580.8 L1527.7 566.9 L1541.7 539.0Z" fill="#e7e7e6" />
<path d="M1470.0 598.0 L1484.0 594.0 L1492.0 610.0 L1490.0 628.0 L1476.0 627.0 L1479.0 612.0Z" fill="#e7e7e6" />
<path d="M1459.0 610.0 L1469.0 608.0 L1469.0 622.0 L1458.0 622.0Z" fill="#e7e7e6" />
<path d="M1225.5 583.0 L1240.0 576.0 L1262.0 578.0 L1300.0 575.0 L1316.0 588.0 L1300.0 600.0 L1275.0 600.0 L1273.5 641.0 L1262.0 645.0 L1250.0 625.0 L1230.0 615.0Z" fill="#c6c6c6" />
<path d="M1225.0 525.0 L1344.0 525.0 L1342.7 551.9 L1349.4 574.7 L1361.5 590.8 L1340.0 600.0 L1316.0 588.0 L1300.0 575.0 L1270.0 569.0 L1245.0 560.0 L1235.0 545.0Z" fill="#c6c6c6" />
<path d="M1100.0 525.0 L1240.0 525.0 L1230.0 536.0 L1180.0 540.0 L1120.0 535.0Z" fill="#c6c6c6" />
<path d="M1240.0 662.0 L1248.0 660.0 L1262.0 668.0 L1256.0 676.0 L1246.0 670.0Z" fill="#c6c6c6" />
<path d="M1540.0 560.0 L1555.6 560.0 L1554.0 600.0 L1556.0 618.0 L1540.0 624.0 L1532.0 612.0Z" fill="#c6c6c6" />
<path d="M1478.0 704.0 L1500.0 700.0 L1515.0 692.0 L1530.0 684.0 L1545.0 690.0 L1560.0 686.0 L1580.0 682.0 L1600.0 684.0 L1625.6 682.0 L1625.6 710.0 L1600.0 712.0 L1560.0 717.0 L1530.0 712.0 L1500.0 707.0 L1478.0 706.0Z" fill="#c6c6c6" />
<path d="M1578.0 662.0 L1605.0 658.0 L1622.0 668.0 L1612.0 680.0 L1585.0 680.0Z" fill="#c6c6c6" />
<path d="M1583.6 533.0 L1610.0 540.0 L1625.6 555.0 L1600.0 567.0 L1585.0 555.0Z" fill="#c6c6c6" />
<path d="M1515.0 676.0 L1526.0 678.0 L1540.0 695.0 L1552.0 704.0 L1546.0 710.0 L1530.0 696.0 L1520.0 688.0Z" fill="#e7e7e6" />
<path d="M1560.0 684.0 L1572.0 680.0 L1578.0 695.0 L1566.0 700.0Z" fill="#e7e7e6" />
<path d="M1473.0 706.0 L1500.0 706.0 L1530.0 712.0 L1560.0 719.0 L1600.0 712.0 L1625.6 710.0 L1625.6 790.0 L1602.0 828.9 L1604.2 899.7 L1526.9 899.7 L1529.0 850.4 L1524.7 828.9 L1518.3 803.1 L1499.0 794.5 L1473.2 797.7 L1460.3 788.0 L1443.1 770.9 L1445.3 747.3 L1460.3 725.8Z" fill="#e7e7e6" />
<path d="M1287.6 538.0 L1307.7 538.0 L1312.0 560.0 L1307.7 585.0 L1292.0 580.0 L1285.0 560.0Z" fill="#e7e7e6" />
<path d="M1250.0 530.0 L1280.0 528.0 L1285.0 545.0 L1262.0 552.0Z" fill="#e7e7e6" />
<path d="M1253.4 744.7 L1275.0 747.0 L1297.0 754.0 L1296.0 757.0 L1275.0 752.0 L1254.0 747.0Z" fill="#e7e7e6" />
<path d="M1300.0 757.0 L1315.0 758.0 L1314.0 761.0 L1300.0 760.0Z" fill="#e7e7e6" />
<path d="M1582.7 717.0 L1590.0 717.0 L1617.0 779.5 L1611.0 781.0Z" fill="#c6c6c6" />
<ellipse cx="1440.5" cy="566" rx="11" ry="8.5" fill="#e7e7e6"/>
<path d="M1093 533 V594.8 M1141 650 H1222 M1161 712 L1185 714 L1200 722 L1212 735 L1218 740 M1466.7 731 L1486 712.9 L1488.2 700 M1443 748.3 H1473.2 M1473.2 736.5 V764.4 M1466.7 731 L1501 754.8 L1524.7 743 L1533.3 744 L1561.3 751.6 M1561.3 712.9 V751.6 M1518.3 721.5 V740.8 M1561.3 746.2 H1593.5 M1556.9 751.6 L1554.8 781.6 M1503.3 770.9 L1529 773 L1533.3 785.9 M1554.8 781.6 L1582.7 777.3 L1591.3 788 L1608.5 796.7 L1619.3 792.4 M1529 805.3 L1576.3 801 L1574.2 833.2 M1526.9 828.9 L1552.7 837.5 L1554.8 848.2 L1572 848.2 M1526.9 860 L1563.4 861.1 M1574.2 833.2 L1589.2 839.6 L1602 835.3 M1563.4 861.1 L1582.7 869.7 L1593.5 867.6 M1473.2 764.4 L1468.9 794.5 M1458.2 770.9 H1479.6 M1501 754.8 L1503.3 770.9 M1533.3 785.9 L1529 805.3 M1293.6 808.1 L1286.1 817.1 L1293.6 826.2 M1283.1 829.2 L1295.1 841.2 L1307.1 838.2 L1314.7 844.2 M1295.1 841.2 L1293.6 865.3 L1307.1 868.3 L1317.7 862.3 L1314.7 844.2 M1310.2 805.1 H1325.2 L1340.2 797.6 M1265 808.1 L1277.1 809.6 L1284.6 818.6 M1317.7 862.3 L1328.2 865.3 L1331.2 880.3 M1293.6 865.3 L1295.1 900 M1328.2 880.3 L1340.2 884.8 M1293.6 808.1 L1310.2 805.1 M1460 673 L1490 676 M1505 640 L1510 665 M1535 625 L1540 660 M1560 625 L1565 660 M1580 560 L1575 620 L1590 660 M1565 655 L1610 650 M1598 535 L1590 600 M1555 530 L1530 600 M1515 672 L1550 675 M1545 680 L1570 690 M1590 690 L1625 690 M1510 665 L1540 660 L1565 660" stroke="#b5b5b5" stroke-width="1.3" fill="none"/>
</g>
</svg>
<div style="position:absolute;top:622.49px;line-height:11px;font-size:11px;font-family:'Liberation Sans', sans-serif;font-weight:400;color:#5f6470;white-space:pre;left:608.30px;width:1200px;text-align:center;"><span style="display:inline-block;transform:scaleX(0.9073);transform-origin:center">NORTH AMERICA</span></div>
<div style="position:absolute;top:712.77px;line-height:11.5px;font-size:11.5px;font-family:'Liberation Sans', sans-serif;font-weight:400;color:#6a6a6a;white-space:pre;font-style:italic;left:775.10px;width:1200px;text-align:center;letter-spacing:1px;"><span style="display:inline-block;transform:scaleX(0.9460);transform-origin:center">Atlantic Ocean</span></div>
<div style="position:absolute;top:634.69px;line-height:11px;font-size:11px;font-family:'Liberation Sans', sans-serif;font-weight:400;color:#5f6470;white-space:pre;left:1546.00px;transform:scaleX(0.8690);transform-origin:left;">UROPE</div>
<div style="position:absolute;top:785.69px;line-height:11px;font-size:11px;font-family:'Liberation Sans', sans-serif;font-weight:400;color:#5f6470;white-space:pre;left:961.80px;width:1200px;text-align:center;"><span style="display:inline-block;transform:scaleX(0.9667);transform-origin:center">AFRICA</span></div>
<div style="position:absolute;top:848.99px;line-height:11px;font-size:11px;font-family:'Liberation Sans', sans-serif;font-weight:400;color:#5f6470;white-space:pre;left:746.80px;width:1200px;text-align:center;"><span style="display:inline-block;transform:scaleX(0.9113);transform-origin:center">SOUTH AMERICA</span></div>
<svg style="left:0;top:0" width="1653" height="931">
<circle cx="1217.8" cy="582.6" r="14.2" fill="#9f969e" fill-opacity="0.72" stroke="#3a3a3a" stroke-width="1"/>
<circle cx="1211.6" cy="688.9" r="25" fill="#6e6d70" stroke="#2e2e2e" stroke-width="1.2"/>
<circle cx="1201.2" cy="740.9" r="10.4" fill="#9f969e" fill-opacity="0.72" stroke="#3a3a3a" stroke-width="1"/>
<circle cx="1304.3" cy="788.1" r="13.7" fill="#9f969e" fill-opacity="0.72" stroke="#3a3a3a" stroke-width="1"/>
<circle cx="1340.6" cy="840.1" r="16.5" fill="#9f969e" fill-opacity="0.72" stroke="#3a3a3a" stroke-width="1"/>
<circle cx="1468.2" cy="634.5" r="12.3" fill="#9f969e" fill-opacity="0.72" stroke="#3a3a3a" stroke-width="1"/>
<circle cx="1483.8" cy="628.9" r="13.2" fill="#9f969e" fill-opacity="0.72" stroke="#3a3a3a" stroke-width="1"/>
<circle cx="1564.2" cy="578.3" r="10.4" fill="#9f969e" fill-opacity="0.72" stroke="#3a3a3a" stroke-width="1"/>
<circle cx="1531" cy="600.5" r="13.2" fill="#9f969e" fill-opacity="0.72" stroke="#3a3a3a" stroke-width="1"/>
<circle cx="1520.2" cy="642.1" r="26" fill="#4c4a4d" fill-opacity="0.72" stroke="#2e2e2e" stroke-width="1.2"/>
<circle cx="1515.5" cy="619.4" r="12.8" fill="#9f969e" fill-opacity="0.72" stroke="#3a3a3a" stroke-width="1"/>
<circle cx="1496.6" cy="662" r="16.5" fill="#9f969e" fill-opacity="0.72" stroke="#3a3a3a" stroke-width="1"/>
<circle cx="1531" cy="657.2" r="18" fill="#9f969e" fill-opacity="0.72" stroke="#3a3a3a" stroke-width="1"/>
<circle cx="1514" cy="660.5" r="11.3" fill="#9f969e" fill-opacity="0.72" stroke="#3a3a3a" stroke-width="1"/>
<circle cx="1503.7" cy="644.5" r="9.5" fill="#9f969e" fill-opacity="0.72" stroke="#3a3a3a" stroke-width="1"/>
<circle cx="1525" cy="673.8" r="8.5" fill="#9f969e" fill-opacity="0.72" stroke="#3a3a3a" stroke-width="1"/>
<circle cx="1480" cy="685.6" r="8" fill="#9f969e" fill-opacity="0.72" stroke="#3a3a3a" stroke-width="1"/>
<circle cx="1468.2" cy="688.9" r="7.6" fill="#9f969e" fill-opacity="0.72" stroke="#3a3a3a" stroke-width="1"/>
<circle cx="1548" cy="639" r="3" fill="#9f969e" fill-opacity="0.72" stroke="#3a3a3a" stroke-width="1"/>
<circle cx="1521" cy="603" r="2.5" fill="#9f969e" fill-opacity="0.72" stroke="#3a3a3a" stroke-width="1"/>
<circle cx="1574.6" cy="549.5" r="15.3" fill="#fdfdfd" stroke="#222" stroke-width="1.6"/>
<circle cx="1574.6" cy="604.3" r="15.3" fill="#fdfdfd" stroke="#222" stroke-width="1.6"/>
<path d="M1564.6 549.5h20M1574.6 539.5v20M1564.6 604.3h20" stroke="#333" stroke-width="2"/>
<rect x="1069" y="880.5" width="4.5" height="4.5" fill="#f25022"/><rect x="1074" y="880.5" width="4.5" height="4.5" fill="#7fba00"/><rect x="1069" y="885.5" width="4.5" height="4.5" fill="#00a4ef"/><rect x="1074" y="885.5" width="4.5" height="4.5" fill="#ffb900"/>
</svg>
<div style="position:absolute;top:881.38px;line-height:9px;font-size:9px;font-family:'Liberation Sans', sans-serif;font-weight:400;color:#777;white-space:pre;left:1081.00px;transform:scaleX(0.8942);transform-origin:left;">Microsoft Bing</div>
<div style="position:absolute;top:882.96px;line-height:9.5px;font-size:9.5px;font-family:'Liberation Sans', sans-serif;font-weight:400;color:#222;white-space:pre;left:1305.00px;transform:scaleX(0.9454);transform-origin:left;">© 2024 TomTom, © 2024 Microsoft Corporation, <span style="color:#3355aa;text-decoration:underline">© OpenStreetMap</span>  <span style="color:#3355aa;text-decoration:underline">Terms</span></div>
<div class="a" style="left:1059.5px;top:523px;width:570.5px;height:1.5px;background:#c9c7c8"></div>
<div class="a" style="left:219px;top:274px;width:229.5px;height:372.5px;box-shadow:4px 5px 12px rgba(0,0,0,0.33)"></div>
<div class="a" style="left:219px;top:274px;width:229.5px;height:372.5px;background:#f9f8f6;border:4.5px solid #a0979e;border-radius:23px 23px 22px 22px"></div>
<div class="a" style="left:236.5px;top:305.5px;width:195px;height:64.30000000000001px;border:1.3px solid #a8a2a7"></div>
<div class="a" style="left:245px;top:327.2px;width:178px;height:1.2px;background:#6a646a"></div>
<div style="position:absolute;top:310.50px;line-height:15px;font-size:15px;font-family:'Liberation Sans', sans-serif;font-weight:700;color:#2f2a2f;white-space:pre;left:245.00px;transform:scaleX(1.0609);transform-origin:left;">Country</div>
<div class="a" style="left:241.5px;top:335.5px;width:184px;height:25.0px;border:1px solid #e6e4e4;background:#f8f7f5"></div>
<svg style="left:0;top:0" width="1653" height="931"><path d="M411 314.2l5.5 5 5.5-5" fill="none" stroke="#555" stroke-width="1.2"/><path d="M404 344.8l8 7.5 8-7.5" fill="none" stroke="#444" stroke-width="1.5"/></svg>
<div style="position:absolute;top:341.20px;line-height:16px;font-size:16px;font-family:'Liberation Serif', serif;font-weight:400;color:#333;white-space:pre;left:248.00px;transform:scaleX(0.9045);transform-origin:left;">All</div>
<div class="a" style="left:236.5px;top:400.4px;width:195px;height:74.30000000000001px;border:1.3px solid #a8a2a7"></div>
<div class="a" style="left:245px;top:422px;width:178px;height:1.2px;background:#6a646a"></div>
<div style="position:absolute;top:405.30px;line-height:15px;font-size:15px;font-family:'Liberation Sans', sans-serif;font-weight:700;color:#2f2a2f;white-space:pre;left:245.00px;transform:scaleX(1.0408);transform-origin:left;">Product Category</div>
<div class="a" style="left:241.5px;top:430.4px;width:184px;height:25.30000000000001px;border:1px solid #e6e4e4;background:#f8f7f5"></div>
<svg style="left:0;top:0" width="1653" height="931"><path d="M411 409l5.5 5 5.5-5" fill="none" stroke="#555" stroke-width="1.2"/><path d="M404 440l8 7.5 8-7.5" fill="none" stroke="#444" stroke-width="1.5"/></svg>
<div style="position:absolute;top:436.40px;line-height:16px;font-size:16px;font-family:'Liberation Serif', serif;font-weight:400;color:#333;white-space:pre;left:248.00px;transform:scaleX(0.9045);transform-origin:left;">All</div>
<div class="a" style="left:236.5px;top:506.4px;width:195px;height:74.60000000000002px;border:1.3px solid #a8a2a7"></div>
<div class="a" style="left:245px;top:528.3px;width:178px;height:1.2px;background:#6a646a"></div>
<div style="position:absolute;top:511.30px;line-height:15px;font-size:15px;font-family:'Liberation Sans', sans-serif;font-weight:700;color:#2f2a2f;white-space:pre;left:245.00px;transform:scaleX(0.9954);transform-origin:left;">Customers</div>
<div class="a" style="left:241.5px;top:536.3px;width:184px;height:26.200000000000045px;border:1px solid #e6e4e4;background:#f8f7f5"></div>
<svg style="left:0;top:0" width="1653" height="931"><path d="M411 515l5.5 5 5.5-5" fill="none" stroke="#555" stroke-width="1.2"/><path d="M404 545.5l8 7.5 8-7.5" fill="none" stroke="#444" stroke-width="1.5"/></svg>
<div style="position:absolute;top:541.90px;line-height:16px;font-size:16px;font-family:'Liberation Serif', serif;font-weight:400;color:#333;white-space:pre;left:248.00px;transform:scaleX(0.9045);transform-origin:left;">All</div>
<svg style="left:0;top:0" width="1653" height="931"><path d="M401.7 623.2H405.5 M401.7 623.2V610.1L390.8 597.2Q389.8 594.5 392.5 594.5H423.5Q426.2 594.5 424.8 597.2L416.6 607" fill="none" stroke="#111" stroke-width="1.7" stroke-linejoin="round" stroke-linecap="round"/><path d="M396 597.7L400.3 603.1M402.1 604.9L403.3 606.3" stroke="#111" stroke-width="1.5" stroke-linecap="round"/><circle cx="414.1" cy="617.3" r="8.6" fill="#f9f8f6"/><circle cx="414.1" cy="617.3" r="7.7" fill="#000"/><path d="M411.6 614.8l5 5M416.6 614.8l-5 5" stroke="#fff" stroke-width="2.2"/></svg>
<svg style="left:0;top:0" width="1653" height="931"><path d="M183.5 331.8L210.5 304.3H214L191.2 331.8L214 359.2H210.5Z" fill="#f6f4f5"/><path d="M191.2 331.8L212.2 306H233.9L212.9 331.5L233.9 356H212.2Z" fill="#a0979e"/><path d="M195.3 331.8L214.3 308.9H227.9L209 331.5L227.9 353.1H214.3Z" fill="#4a454a"/></svg>
</body></html>
